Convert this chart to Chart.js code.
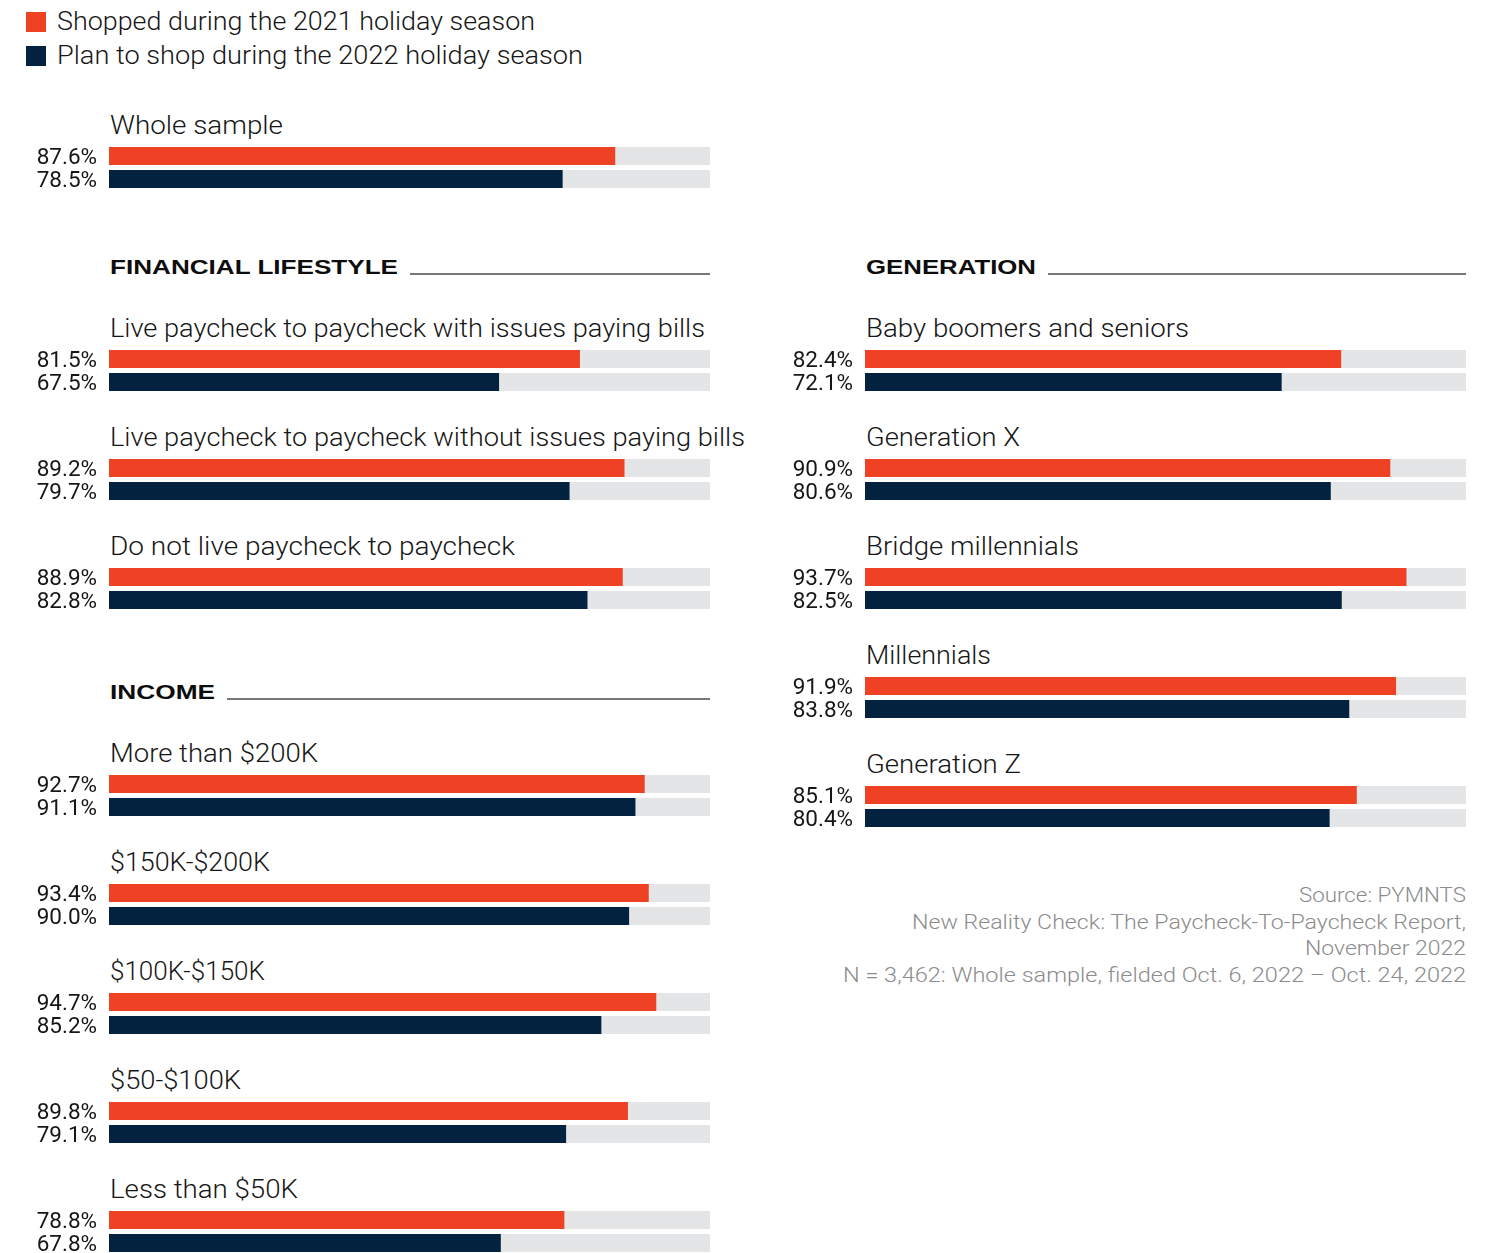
<!DOCTYPE html>
<html>
<head>
<meta charset="utf-8">
<script src="https://cdn.jsdelivr.net/npm/chart.js@4/dist/chart.umd.min.js"></script>
<style>
  html, body { margin: 0; padding: 0; background: #ffffff; }
  #page { position: relative; width: 1486px; height: 1253px; overflow: hidden; }
  #page svg { position: absolute; left: 0; top: 0; }
  .blk { position: absolute; width: 710px; height: 58px; }
</style>
</head>
<body>
<div id="page"></div>
<script>
// ---- data ----
const seriesNames = ['Shopped during the 2021 holiday season', 'Plan to shop during the 2022 holiday season'];

const wholeLabels = ['Whole sample'];
const whole2021 = [87.6];
const whole2022 = [78.5];

const lifestyleTitle = 'FINANCIAL LIFESTYLE';
const lifestyleLabels = [
  'Live paycheck to paycheck with issues paying bills',
  'Live paycheck to paycheck without issues paying bills',
  'Do not live paycheck to paycheck'
];
const lifestyle2021 = [81.5, 89.2, 88.9];
const lifestyle2022 = [67.5, 79.7, 82.8];

const incomeTitle = 'INCOME';
const incomeLabels = ['More than $200K', '$150K-$200K', '$100K-$150K', '$50-$100K', 'Less than $50K'];
const income2021 = [92.7, 93.4, 94.7, 89.8, 78.8];
const income2022 = [91.1, 90.0, 85.2, 79.1, 67.8];

const generationTitle = 'GENERATION';
const generationLabels = ['Baby boomers and seniors', 'Generation X', 'Bridge millennials', 'Millennials', 'Generation Z'];
const generation2021 = [82.4, 90.9, 93.7, 91.9, 85.1];
const generation2022 = [72.1, 80.6, 82.5, 83.8, 80.4];

const sourceLines = [
  'Source: PYMNTS',
  'New Reality Check: The Paycheck-To-Paycheck Report,',
  'November 2022',
  'N = 3,462: Whole sample, fielded Oct. 6, 2022 \u2013 Oct. 24, 2022'
];

const axisMax = 104;

// ---- style ----
const RED = '#EF4124';
const NAVY = '#03223F';
const TRACK = '#E4E5E7';
const INK = '#161616';
const GREY = '#8c8c8c';
const LIGHT = 'Roboto, "Noto Sans", sans-serif';

const page = document.getElementById('page');
const NS = 'http://www.w3.org/2000/svg';
const svg = document.createElementNS(NS, 'svg');
svg.setAttribute('width', 1486);
svg.setAttribute('height', 1253);
page.appendChild(svg);

function text(str, x, y, opts) {
  const t = document.createElementNS(NS, 'text');
  t.textContent = str;
  t.setAttribute('x', x);
  t.setAttribute('y', y);
  t.setAttribute('font-family', opts.family || LIGHT);
  t.setAttribute('font-size', opts.size);
  t.setAttribute('font-weight', opts.weight || 300);
  t.setAttribute('fill', opts.color || INK);
  if (opts.anchor) t.setAttribute('text-anchor', opts.anchor);
  if (opts.len) {
    t.setAttribute('textLength', opts.len);
    t.setAttribute('lengthAdjust', 'spacingAndGlyphs');
  }
  svg.appendChild(t);
  return t;
}
function rule(x1, x2, y) {
  const l = document.createElementNS(NS, 'line');
  l.setAttribute('x1', x1); l.setAttribute('x2', x2);
  l.setAttribute('y1', y); l.setAttribute('y2', y);
  l.setAttribute('stroke', '#4a4a4a');
  l.setAttribute('stroke-width', 1.3);
  svg.appendChild(l);
}
function swatch(x, y, color) {
  const r = document.createElementNS(NS, 'rect');
  r.setAttribute('x', x); r.setAttribute('y', y);
  r.setAttribute('width', 20); r.setAttribute('height', 20);
  r.setAttribute('fill', color);
  svg.appendChild(r);
}

// legend
swatch(26, 12, RED);
swatch(26, 46, NAVY);
text(seriesNames[0], 57, 30, { size: 25, len: 478 });
text(seriesNames[1], 57, 64, { size: 25, len: 526 });

// section headings with trailing rule
function heading(str, x, y, len, ruleEnd) {
  text(str, x, y, { family: '"Liberation Sans", Arial, sans-serif', size: 21, weight: 700, color: '#0d0d0d', len: len });
  rule(x + len + 12, ruleEnd, y);
}
heading(lifestyleTitle, 110, 274, 288, 710);
heading(generationTitle, 866, 274, 170, 1466);
heading(incomeTitle, 110, 699, 105, 710);

// track behind each bar, spanning the full value axis
const trackPlugin = {
  id: 'track',
  beforeDatasetsDraw(chart) {
    const { ctx, chartArea } = chart;
    const meta = chart.getDatasetMeta(0);
    ctx.save();
    ctx.fillStyle = TRACK;
    meta.data.forEach(bar => {
      const h = bar.height;
      ctx.fillRect(chartArea.left, bar.y - h / 2, chartArea.right - chartArea.left, h);
    });
    ctx.restore();
  }
};

const AXIS_W = 109;

// one pair of bars: title text above, bars drawn by Chart.js
function block(title, titleLen, v21, v22, colLeft, barTop) {
  text(title, colLeft + AXIS_W + 1, barTop - 13, { size: 26, len: titleLen });

  const holder = document.createElement('div');
  holder.className = 'blk';
  holder.style.left = colLeft + 'px';
  holder.style.top = (barTop - 8) + 'px';
  const cv = document.createElement('canvas');
  holder.appendChild(cv);
  page.appendChild(holder);

  const values = [v21, v22];
  new Chart(cv, {
    type: 'bar',
    data: {
      labels: ['2021', '2022'],
      datasets: [{
        label: title,
        data: values,
        backgroundColor: [RED, NAVY],
        borderWidth: 0,
        categoryPercentage: 1,
        barPercentage: 18 / 23
      }]
    },
    options: {
      indexAxis: 'y',
      responsive: true,
      maintainAspectRatio: false,
      animation: false,
      devicePixelRatio: 1,
      layout: { padding: { top: 5.5, bottom: 6.5, left: 0, right: 0 } },
      plugins: { legend: { display: false }, tooltip: { enabled: false }, title: { display: false } },
      scales: {
        x: { display: false, min: 0, max: axisMax },
        y: {
          grid: { display: false, drawTicks: false },
          border: { display: false },
          afterFit: s => {
            s.width = AXIS_W;
            s.paddingTop = 0;
            s.paddingBottom = 0;
          },
          ticks: {
            autoSkip: false,
            padding: 12,
            labelOffset: 2,
            color: INK,
            font: { family: LIGHT, size: 22.5, weight: 400 },
            callback: (v, i) => values[i].toFixed(1) + '%'
          }
        }
      }
    },
    plugins: [trackPlugin]
  });
}

// left column
block(wholeLabels[0], 173, whole2021[0], whole2022[0], 0, 147);

const lifestyleTops = [350, 459, 568];
const lifestyleLens = [595, 635, 405];
lifestyleLabels.forEach((l, i) => block(l, lifestyleLens[i], lifestyle2021[i], lifestyle2022[i], 0, lifestyleTops[i]));

const incomeTops = [775, 884, 993, 1102, 1211];
const incomeLens = [208, 160, 155, 131, 188];
incomeLabels.forEach((l, i) => block(l, incomeLens[i], income2021[i], income2022[i], 0, incomeTops[i]));

// right column
const generationTops = [350, 459, 568, 677, 786];
const generationLens = [323, 154, 213, 125, 155];
generationLabels.forEach((l, i) => block(l, generationLens[i], generation2021[i], generation2022[i], 756, generationTops[i]));

// source note, right aligned
const sourceBaselines = [902, 928.5, 955, 981.5];
const sourceLens = [167, 554, 161, 623];
sourceLines.forEach((s, i) => text(s, 1466, sourceBaselines[i], { size: 21, color: GREY, anchor: 'end', len: sourceLens[i] }));
</script>
</body>
</html>
